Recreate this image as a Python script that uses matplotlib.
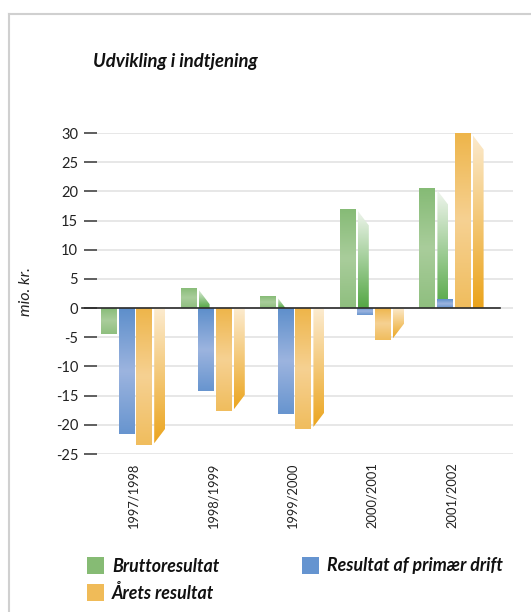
import numpy as np
import matplotlib
matplotlib.use('Agg')
from matplotlib import pyplot as plt
from matplotlib.patches import Polygon, Rectangle
from matplotlib.lines import Line2D
from matplotlib.colors import to_rgb

# Data (mio. kr.)
years = ['1997/1998', '1998/1999', '1999/2000', '2000/2001', '2001/2002']
brutto = [-4.5, 3.5, 2.0, 17.0, 20.5]
primaer = [-21.5, -14.2, -18.2, -1.2, 1.5]
aarets = [-23.5, -17.7, -20.7, -5.5, 30.0]
series_names = ['Bruttoresultat', 'Resultat af primær drift', 'Årets resultat']
yticks = [-25, -20, -15, -10, -5, 0, 5, 10, 15, 20, 25, 30]

# face colours: front (edge, middle, edge) and side (dark bottom, light top)
front_cols = [('#8fbf7f', '#a9cd9b', '#86bb76'),
              ('#6895cf', '#9cb4df', '#5e8fcb'),
              ('#f0bd5e', '#f6d192', '#eeb54a')]
side_cols = [('#55a846', '#f2f6f0'),
             ('#5b8fcc', '#e4ebf6'),
             ('#eba41c', '#fcebcf')]
legend_cols = ['#86bb74', '#6594d0', '#f0bb58']

plt.rcParams['font.family'] = ['Lato', 'DejaVu Sans']

W, H = 531, 612
fig = plt.figure(figsize=(W / 100, H / 100), dpi=100)

px_unit = 79.6          # pixels per group
x_first = 133.5         # pixel of first group centre
ax_l, ax_r, ax_t, ax_b = 97, 513, 133, 454
ax = fig.add_axes([ax_l / W, 1 - ax_b / H, (ax_r - ax_l) / W, (ax_b - ax_t) / H])
xlim = ((ax_l - x_first) / px_unit, (ax_r - x_first) / px_unit)
ylim = (-25, 30)
ypx = (ax_b - ax_t) / (ylim[1] - ylim[0])   # pixels per mio. kr.

bw = 16 / px_unit
step = 17.6 / px_unit
off0 = -32.5 / px_unit
gap = 2 / px_unit
sw = 11 / px_unit
d0 = 2 / ypx
drop = 14.5 / ypx


def gradient(stops, n=64):
    cols = np.array([to_rgb(c) for c in stops])
    t = np.linspace(0, 1, n)
    pos = np.linspace(0, 1, len(stops))
    img = np.stack([np.interp(t, pos, cols[:, k]) for k in range(3)], axis=-1)
    return img[:, None, :]


def shade(verts, stops, x0, x1, y0, y1):
    poly = Polygon(verts, closed=True, facecolor='none', edgecolor='none')
    ax.add_patch(poly)
    im = ax.imshow(gradient(stops), extent=[x0, x1, y0, y1], origin='lower',
                   aspect='auto', interpolation='bilinear', zorder=3)
    im.set_clip_path(poly)


for s, vals in enumerate([brutto, primaer, aarets]):
    for i, v in enumerate(vals):
        x0 = i + off0 + s * step
        x1 = x0 + bw
        lo, hi = min(0, v), max(0, v)
        # front face
        shade([(x0, lo), (x0, hi), (x1, hi), (x1, lo)], front_cols[s], x0, x1, lo, hi)
        # side face with slanted end
        xs = x1 + gap
        sgn = 1 if v > 0 else -1
        a = abs(v) - d0
        b = a - drop
        if b >= 0:
            pts = [(xs, 0), (xs, sgn * a), (xs + sw, sgn * b), (xs + sw, 0)]
        else:
            xe = xs + sw * a / drop
            pts = [(xs, 0), (xs, sgn * a), (xe, 0)]
        shade(pts, side_cols[s], xs, xs + sw, lo, hi)

# zero line
ax.plot([(82 - x_first) / px_unit, (500 - x_first) / px_unit], [0, 0],
        color='#2b2b2b', lw=1.2, zorder=5, clip_on=False)

ax.set_xlim(*xlim)
ax.set_ylim(*ylim)
ax.set_yticks(yticks)
ax.set_yticklabels([str(t) for t in yticks], fontsize=10.5, color='#222222')
ax.set_xticks(range(len(years)))
ax.set_xticklabels(years, rotation=90, fontsize=9.3, color='#222222')
ax.tick_params(axis='y', length=9.5, width=1.1, color='#333333', pad=4)
ax.tick_params(axis='x', length=0, pad=6)
ax.yaxis.grid(True, color='#e3e3e3', lw=1.2)
ax.set_axisbelow(True)
for sp in ax.spines.values():
    sp.set_visible(False)

ax.set_ylabel('mio. kr.', style='italic', fontsize=11.5, color='#222222')
ax.yaxis.set_label_coords((33 - ax_l) / (ax_r - ax_l), (454 - 292) / (ax_b - ax_t))

fig.text(93 / W, 1 - 62 / H, 'Udvikling i indtjening', fontsize=13.3,
         fontweight='bold', style='italic', va='center', color='#111111')

# outer frame (top and left)
fig.add_artist(Line2D([9 / W, 1], [1 - 14 / H, 1 - 14 / H], color='#d0d0d0', lw=1.5))
fig.add_artist(Line2D([9 / W, 9 / W], [0, 1 - 14 / H], color='#d0d0d0', lw=1.5))

# legend
leg_pos = [(87, 557), (302, 557), (87, 584)]
for (lx, ly), name, col in zip(leg_pos, series_names, legend_cols):
    fig.add_artist(Rectangle((lx / W, 1 - (ly + 17) / H), 17 / W, 17 / H,
                             transform=fig.transFigure, facecolor=col, edgecolor='none'))
    fig.text((lx + 25) / W, 1 - (ly + 9) / H, name, fontsize=12.8, fontweight='bold',
             style='italic', va='center', color='#111111')

fig.savefig('out.png', dpi=100)
